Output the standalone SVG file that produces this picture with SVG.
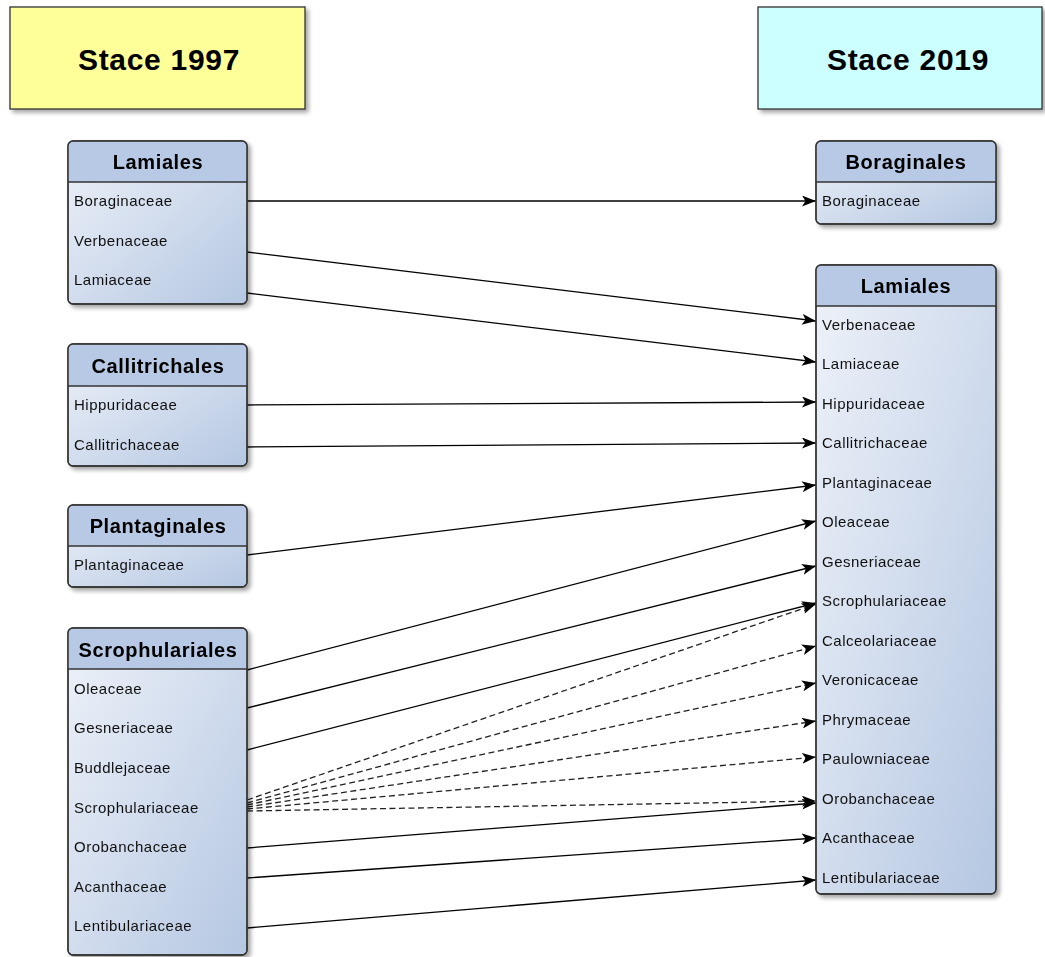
<svg xmlns="http://www.w3.org/2000/svg" width="1045" height="957" viewBox="0 0 1045 957">
<style>
.title{font-family:"Liberation Sans",Arial,sans-serif;font-weight:bold;font-size:30px;letter-spacing:0.7px;text-anchor:middle;fill:#000}
.hdr{font-family:"Liberation Sans",Arial,sans-serif;font-weight:bold;font-size:20px;letter-spacing:0.6px;text-anchor:middle;fill:#000}
.row{font-family:"Liberation Sans",Arial,sans-serif;font-size:15px;letter-spacing:0.5px;fill:#111}
.box{fill:url(#g);stroke:#333;stroke-width:1.3}
.hbox{fill:#b7c9e4}
.sep{stroke:#333;stroke-width:1.3}
.e{fill:none;stroke:#000;stroke-width:1.3;marker-end:url(#a)}
.d{stroke:#222;stroke-dasharray:6,3.5}
</style>
<defs>
<linearGradient id="g" x1="0" y1="0" x2="1" y2="1">
<stop offset="0" stop-color="#eef2f9"/>
<stop offset="1" stop-color="#b5c7e2"/>
</linearGradient>
<filter id="sh" x="-10%" y="-10%" width="130%" height="130%">
<feDropShadow dx="3" dy="3" stdDeviation="2" flood-color="#000" flood-opacity="0.35"/>
</filter>
<marker id="a" markerUnits="userSpaceOnUse" markerWidth="15" markerHeight="11" refX="14" refY="5.5" orient="auto">
<path d="M0,0 L14,5.5 L0,11 L3.5,5.5 z" fill="#000"/>
</marker>
</defs>

<g id="title1997">
<rect x="10" y="7" width="295" height="102" fill="#ffff99" stroke="#333" stroke-width="1.3" filter="url(#sh)"/>
<text class="title" x="159" y="70">Stace 1997</text>
</g>
<g id="title2019">
<rect x="758" y="7" width="284" height="102" fill="#ccffff" stroke="#333" stroke-width="1.3" filter="url(#sh)"/>
<text class="title" x="908" y="70">Stace 2019</text>
</g>

<g id="connectors">
<path class="e" d="M247,201 L816,201"/>
<path class="e" d="M247,252 L816,321"/>
<path class="e" d="M247,293 L816,362"/>
<path class="e" d="M247,405 L816,402"/>
<path class="e" d="M247,447 L816,443"/>
<path class="e" d="M247,555 L816,485"/>
<path class="e" d="M247,670 L816,521"/>
<path class="e" d="M247,708 L816,566"/>
<path class="e" d="M247,750 L816,603"/>
<path class="e d" d="M247,800 L816,604"/>
<path class="e d" d="M247,803 L816,646"/>
<path class="e d" d="M247,805 L816,683"/>
<path class="e d" d="M247,807 L816,721"/>
<path class="e d" d="M247,809 L816,757"/>
<path class="e d" d="M247,811 L816,801"/>
<path class="e" d="M247,848 L816,803"/>
<path class="e" d="M247,878 L816,838"/>
<path class="e" d="M247,928 L816,880"/>
</g>

<g id="lamiales1997" filter="url(#sh)">
<rect class="box" x="68" y="141" width="179" height="163" rx="5"/>
<path class="hbox" d="M73,141.6 H242 A4.4,4.4 0 0 1 246.4,146 V182 H68.6 V146 A4.4,4.4 0 0 1 73,141.6 z"/>
<line class="sep" x1="68" y1="182" x2="247" y2="182"/>
<rect x="68" y="141" width="179" height="163" rx="5" fill="none" stroke="#333" stroke-width="1.3"/>
<text class="hdr" x="158" y="169">Lamiales</text>
<text class="row" x="74" y="206">Boraginaceae</text>
<text class="row" x="74" y="246">Verbenaceae</text>
<text class="row" x="74" y="285">Lamiaceae</text>
</g>

<g id="callitrichales1997" filter="url(#sh)">
<rect class="box" x="68" y="344" width="179" height="122" rx="5"/>
<path class="hbox" d="M73,344.6 H242 A4.4,4.4 0 0 1 246.4,349 V386 H68.6 V349 A4.4,4.4 0 0 1 73,344.6 z"/>
<line class="sep" x1="68" y1="386" x2="247" y2="386"/>
<rect x="68" y="344" width="179" height="122" rx="5" fill="none" stroke="#333" stroke-width="1.3"/>
<text class="hdr" x="158" y="373">Callitrichales</text>
<text class="row" x="74" y="410">Hippuridaceae</text>
<text class="row" x="74" y="450">Callitrichaceae</text>
</g>

<g id="plantaginales1997" filter="url(#sh)">
<rect class="box" x="68" y="505" width="179" height="82" rx="5"/>
<path class="hbox" d="M73,505.6 H242 A4.4,4.4 0 0 1 246.4,510 V546 H68.6 V510 A4.4,4.4 0 0 1 73,505.6 z"/>
<line class="sep" x1="68" y1="546" x2="247" y2="546"/>
<rect x="68" y="505" width="179" height="82" rx="5" fill="none" stroke="#333" stroke-width="1.3"/>
<text class="hdr" x="158" y="533">Plantaginales</text>
<text class="row" x="74" y="570">Plantaginaceae</text>
</g>

<g id="scrophulariales1997" filter="url(#sh)">
<rect class="box" x="68" y="628" width="179" height="327" rx="5"/>
<path class="hbox" d="M73,628.6 H242 A4.4,4.4 0 0 1 246.4,633 V669 H68.6 V633 A4.4,4.4 0 0 1 73,628.6 z"/>
<line class="sep" x1="68" y1="669" x2="247" y2="669"/>
<rect x="68" y="628" width="179" height="327" rx="5" fill="none" stroke="#333" stroke-width="1.3"/>
<text class="hdr" x="158" y="657">Scrophulariales</text>
<text class="row" x="74" y="694">Oleaceae</text>
<text class="row" x="74" y="733">Gesneriaceae</text>
<text class="row" x="74" y="773">Buddlejaceae</text>
<text class="row" x="74" y="813">Scrophulariaceae</text>
<text class="row" x="74" y="852">Orobanchaceae</text>
<text class="row" x="74" y="892">Acanthaceae</text>
<text class="row" x="74" y="931">Lentibulariaceae</text>
</g>

<g id="boraginales2019" filter="url(#sh)">
<rect class="box" x="816" y="141" width="180" height="83" rx="5"/>
<path class="hbox" d="M821,141.6 H991 A4.4,4.4 0 0 1 995.4,146 V182 H816.6 V146 A4.4,4.4 0 0 1 821,141.6 z"/>
<line class="sep" x1="816" y1="182" x2="996" y2="182"/>
<rect x="816" y="141" width="180" height="83" rx="5" fill="none" stroke="#333" stroke-width="1.3"/>
<text class="hdr" x="906" y="169">Boraginales</text>
<text class="row" x="822" y="206">Boraginaceae</text>
</g>

<g id="lamiales2019" filter="url(#sh)">
<rect class="box" x="816" y="265" width="180" height="629" rx="5"/>
<path class="hbox" d="M821,265.6 H991 A4.4,4.4 0 0 1 995.4,270 V306 H816.6 V270 A4.4,4.4 0 0 1 821,265.6 z"/>
<line class="sep" x1="816" y1="306" x2="996" y2="306"/>
<rect x="816" y="265" width="180" height="629" rx="5" fill="none" stroke="#333" stroke-width="1.3"/>
<text class="hdr" x="906" y="293">Lamiales</text>
<text class="row" x="822" y="330">Verbenaceae</text>
<text class="row" x="822" y="369">Lamiaceae</text>
<text class="row" x="822" y="409">Hippuridaceae</text>
<text class="row" x="822" y="448">Callitrichaceae</text>
<text class="row" x="822" y="488">Plantaginaceae</text>
<text class="row" x="822" y="527">Oleaceae</text>
<text class="row" x="822" y="567">Gesneriaceae</text>
<text class="row" x="822" y="606">Scrophulariaceae</text>
<text class="row" x="822" y="646">Calceolariaceae</text>
<text class="row" x="822" y="685">Veronicaceae</text>
<text class="row" x="822" y="725">Phrymaceae</text>
<text class="row" x="822" y="764">Paulowniaceae</text>
<text class="row" x="822" y="804">Orobanchaceae</text>
<text class="row" x="822" y="843">Acanthaceae</text>
<text class="row" x="822" y="883">Lentibulariaceae</text>
</g>
</svg>
